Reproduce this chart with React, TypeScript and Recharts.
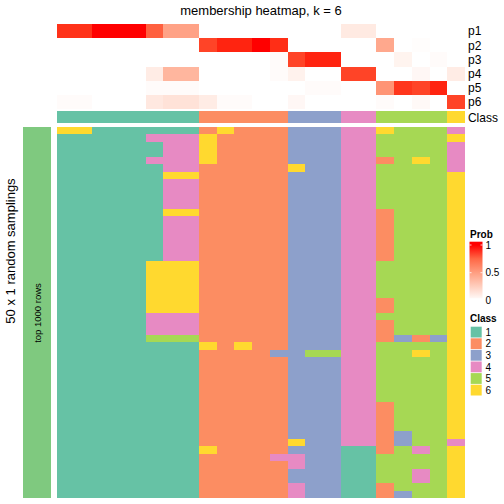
import React from "react";
import { BarChart, Bar, XAxis, YAxis, Cell } from "recharts";

// samples (heatmap columns), left to right
const columns = [
  "s1", "s2", "s3", "s4", "s5", "s6", "s7", "s8", "s9", "s10", "s11", "s12",
  "s13", "s14", "s15", "s16", "s17", "s18", "s19", "s20", "s21", "s22", "s23",
];

// membership probabilities per class, one value per sample
const p1 = [0.93, 0.93, 1, 1, 1, 0.78, 0.48, 0.48, 0, 0, 0, 0, 0, 0, 0, 0, 0.11, 0.11, 0, 0, 0, 0, 0];
const p2 = [0, 0, 0, 0, 0, 0, 0, 0, 0.88, 0.96, 0.96, 1, 0.94, 0, 0, 0, 0, 0, 0.45, 0, 0.01, 0, 0];
const p3 = [0, 0, 0, 0, 0, 0, 0, 0, 0, 0, 0, 0, 0.02, 0.88, 0.96, 0.96, 0, 0, 0, 0.06, 0, 0.02, 0];
const p4 = [0, 0, 0, 0, 0, 0.1, 0.38, 0.38, 0, 0, 0, 0, 0.02, 0.07, 0, 0, 0.88, 0.88, 0, 0, 0.04, 0, 0.1];
const p5 = [0, 0, 0, 0, 0, 0.02, 0.02, 0.02, 0, 0, 0, 0, 0, 0, 0.02, 0.02, 0, 0, 0.55, 0.92, 0.88, 0.96, 0];
const p6 = [0.02, 0.02, 0, 0, 0, 0.12, 0.15, 0.15, 0.1, 0.02, 0.02, 0, 0, 0.04, 0, 0, 0, 0, 0.02, 0, 0.03, 0, 0.88];
const probLabels = ["p1", "p2", "p3", "p4", "p5", "p6"];

// consensus class per sample
const classes = [1, 1, 1, 1, 1, 1, 1, 1, 2, 2, 2, 2, 2, 3, 3, 3, 4, 4, 5, 5, 5, 5, 6];

// class of each sample in each of the 50 random samplings (spaces are only for reading)
const samplings = [
  "66111111 26222 333 44 6555 4",
  "11111444 62222 333 44 5555 6",
  "11111144 62222 333 44 5555 4",
  "11111144 62222 333 44 5555 4",
  "11111444 62222 333 44 2565 4",
  "11111144 22222 633 44 5555 4",
  "11111166 22222 333 44 5555 6",
  "11111144 22222 333 44 5555 6",
  "11111144 22222 333 44 5555 6",
  "11111144 22222 333 44 5555 6",
  "11111144 22222 333 44 5555 6",
  "11111166 22222 333 44 2555 6",
  "11111144 22222 333 44 2555 6",
  "11111144 22222 333 44 2555 6",
  "11111144 22222 333 44 2555 6",
  "11111144 22222 333 44 2555 6",
  "11111144 22222 333 44 2555 6",
  "11111144 22222 333 44 2555 6",
  "11111666 22222 333 44 5555 6",
  "11111666 22222 333 44 5555 6",
  "11111666 22222 333 44 5555 6",
  "11111666 22222 333 44 5555 6",
  "11111666 22222 333 44 5555 6",
  "11111666 22222 333 44 2555 6",
  "11111666 22222 333 44 2555 6",
  "11111444 22222 333 44 5555 6",
  "11111444 22222 333 44 2555 6",
  "11111444 22222 333 44 2555 6",
  "11111555 22222 333 44 2323 6",
  "11111111 62622 333 44 5555 6",
  "11111111 22223 355 44 5565 6",
  "11111111 22222 333 44 5555 6",
  "11111111 22222 333 44 5555 6",
  "11111111 22222 333 44 5555 6",
  "11111111 22222 333 44 5555 6",
  "11111111 22222 333 44 5555 6",
  "11111111 22222 333 44 5555 6",
  "11111111 22222 333 44 2555 6",
  "11111111 22222 333 44 2555 6",
  "11111111 22222 333 44 2555 6",
  "11111111 22222 333 44 2555 6",
  "11111111 22222 333 44 2355 6",
  "11111111 22222 633 44 2355 4",
  "11111111 62222 333 11 2545 6",
  "11111111 22224 433 11 5555 6",
  "11111111 22222 433 11 5555 6",
  "11111111 22222 333 11 5545 6",
  "11111111 22222 333 11 5545 6",
  "11111111 22222 433 11 2555 6",
  "11111111 22222 433 11 2355 6",
];

const classLabels = ["1", "2", "3", "4", "5", "6"];
const probTicks = [1, 0.5, 0];

const classColors: Record<string, string> = {
  "1": "#66C2A5",
  "2": "#FC8D62",
  "3": "#8DA0CB",
  "4": "#E78AC3",
  "5": "#A6D854",
  "6": "#FFD92F",
};

// white -> red, interpolated in LAB like colorRamp2
function probColor(v: number) {
  const L = 100 + (53.24 - 100) * v;
  const a = 80.09 * v;
  const b = 67.2 * v;
  const fy = (L + 16) / 116;
  const fx = fy + a / 500;
  const fz = fy - b / 200;
  const inv = (t: number) => (t > 6 / 29 ? t * t * t : 3 * (6 / 29) ** 2 * (t - 4 / 29));
  const X = 0.95047 * inv(fx);
  const Y = inv(fy);
  const Z = 1.08883 * inv(fz);
  const lin = [
    3.2406 * X - 1.5372 * Y - 0.4986 * Z,
    -0.9689 * X + 1.8758 * Y + 0.0415 * Z,
    0.0557 * X - 0.204 * Y + 1.057 * Z,
  ];
  const hex = lin.map((c) => {
    const s = c <= 0.0031308 ? 12.92 * c : 1.055 * Math.pow(c, 1 / 2.4) - 0.055;
    const n = Math.round(Math.min(1, Math.max(0, s)) * 255);
    return n.toString(16).padStart(2, "0");
  });
  return "#" + hex.join("");
}

const probRows = [p1, p2, p3, p4, p5, p6];
const samplingRows = samplings.map((s) => s.replace(/ /g, ""));

const W = 408;
const noMargin = { top: 0, right: 0, bottom: 0, left: 0 };
const labelTick = { fill: "#000", fontSize: 12 };

export default function App() {
  const probTable = columns.map((col) => {
    const row: Record<string, any> = { col };
    probLabels.forEach((l) => (row[l] = 1));
    return row;
  });
  const classTable = columns.map((col) => ({ col, Class: 1 }));
  const bodyTable = columns.map((col) => {
    const row: Record<string, any> = { col };
    samplingRows.forEach((_, i) => (row["r" + i] = 1));
    return row;
  });

  return (
    <div
      className="heat"
      style={{
        position: "absolute",
        left: 0,
        top: 0,
        width: 504,
        height: 504,
        background: "#fff",
        fontFamily: "'Liberation Sans', Arial, sans-serif",
      }}
    >
      <style>{".heat .recharts-rectangle{shape-rendering:crispEdges}"}</style>

      {/* probability rows */}
      <div style={{ position: "absolute", left: 57, top: 24 }}>
        <BarChart width={W + 40} height={85} data={probTable} margin={noMargin} barCategoryGap={0} barGap={0}>
          <XAxis dataKey="col" hide />
          <YAxis
            type="number"
            domain={[0, 6]}
            reversed
            orientation="right"
            width={40}
            ticks={probLabels.map((_, k) => k + 0.5)}
            interval={0}
            tickFormatter={(v) => probLabels[Math.floor(v)]}
            axisLine={false}
            tickLine={false}
            tickSize={0}
            tickMargin={3}
            tick={labelTick}
          />
          {probLabels.map((l, k) => (
            <Bar key={l} dataKey={l} stackId="p" isAnimationActive={false}>
              {probRows[k].map((v, j) => (
                <Cell key={j} fill={probColor(v)} />
              ))}
            </Bar>
          ))}
        </BarChart>
      </div>

      {/* class row */}
      <div style={{ position: "absolute", left: 57, top: 110.7 }}>
        <BarChart width={W + 40} height={12.8} data={classTable} margin={noMargin} barCategoryGap={0} barGap={0}>
          <XAxis dataKey="col" hide />
          <YAxis
            type="number"
            domain={[0, 1]}
            orientation="right"
            width={40}
            ticks={[0.5]}
            interval={0}
            tickFormatter={() => "Class"}
            axisLine={false}
            tickLine={false}
            tickSize={0}
            tickMargin={3}
            tick={labelTick}
          />
          <Bar dataKey="Class" isAnimationActive={false}>
            {classes.map((c, j) => (
              <Cell key={j} fill={classColors[String(c)]} />
            ))}
          </Bar>
        </BarChart>
      </div>

      {/* random samplings */}
      <div style={{ position: "absolute", left: 57, top: 126.7 }}>
        <BarChart width={W} height={371.3} data={bodyTable} margin={noMargin} barCategoryGap={0} barGap={0}>
          <XAxis dataKey="col" hide />
          <YAxis type="number" domain={[0, samplingRows.length]} reversed hide />
          {samplingRows.map((s, i) => (
            <Bar key={i} dataKey={"r" + i} stackId="s" isAnimationActive={false}>
              {s.split("").map((c, j) => (
                <Cell key={j} fill={classColors[c]} />
              ))}
            </Bar>
          ))}
        </BarChart>
      </div>

      {/* row annotation */}
      <div style={{ position: "absolute", left: 23, top: 126.7 }}>
        <BarChart width={28} height={371.3} data={[{ name: "top 1000 rows", rows: 1 }]} margin={noMargin} barCategoryGap={0}>
          <XAxis dataKey="name" hide />
          <YAxis type="number" domain={[0, 1]} hide />
          <Bar dataKey="rows" fill="#7FC97F" isAnimationActive={false} />
        </BarChart>
      </div>

      <svg width={504} height={504} style={{ position: "absolute", left: 0, top: 0, pointerEvents: "none" }}>
        <defs>
          <linearGradient id="probGrad" gradientUnits="userSpaceOnUse" x1={0} y1={245} x2={0} y2={300.4}>
            {[1, 0.75, 0.5, 0.25, 0].map((v) => (
              <stop key={v} offset={1 - v} stopColor={probColor(v)} />
            ))}
          </linearGradient>
        </defs>
        <text x={261} y={15} textAnchor="middle" fontSize={13}>
          membership heatmap, k = 6
        </text>
        <text transform="translate(14.5,251) rotate(-90)" textAnchor="middle" fontSize={13}>
          50 x 1 random samplings
        </text>
        <text transform="translate(40.8,313) rotate(-90)" textAnchor="middle" fontSize={9.5}>
          top 1000 rows
        </text>

        <text x={470} y={237.5} fontSize={10} fontWeight="bold">
          Prob
        </text>
        <rect x={469.5} y={241.7} width={13} height={56.6} fill="url(#probGrad)" />
        {probTicks.map((v) => {
          const y = 300.4 - 55.4 * v;
          return (
            <g key={v}>
              {v > 0 && <line x1={469.5} x2={471.5} y1={y} y2={y} stroke="#fff" strokeWidth={0.8} />}
              {v > 0 && <line x1={480.5} x2={482.5} y1={y} y2={y} stroke="#fff" strokeWidth={0.8} />}
              <text x={485.5} y={y + 3.6} fontSize={10}>
                {v}
              </text>
            </g>
          );
        })}

        <text x={470} y={322} fontSize={10} fontWeight="bold">
          Class
        </text>
        {classLabels.map((c, i) => (
          <g key={c}>
            <rect x={470.7} y={326.7 + 11.6 * i} width={11} height={10.8} fill={classColors[c]} />
            <text x={485.5} y={326.7 + 11.6 * i + 9} fontSize={10}>
              {c}
            </text>
          </g>
        ))}
      </svg>
    </div>
  );
}
